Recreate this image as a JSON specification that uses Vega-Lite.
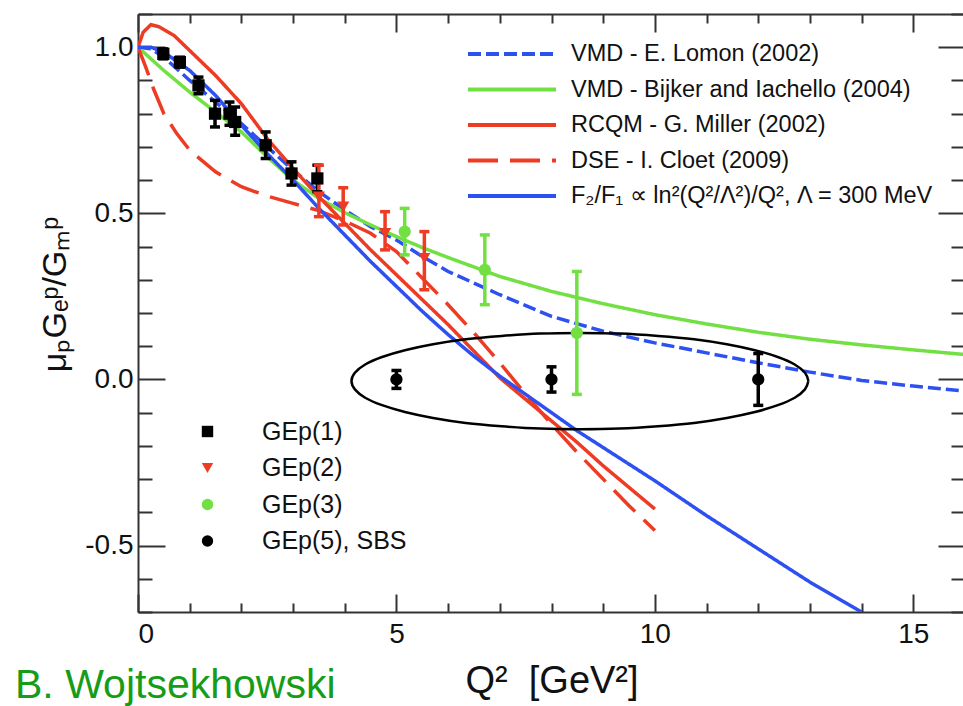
{
  "$schema": "https://vega.github.io/schema/vega-lite/v6.json",
  "width": 827,
  "height": 598,
  "autosize": "none",
  "padding": {"left": 138, "top": 14, "right": 0, "bottom": 94},
  "background": "white",
  "config": {"view": {"stroke": null}, "font": "Liberation Sans", "axis": {"grid": false}},
  "title": {"text": "B. Wojtsekhowski", "orient": "bottom", "anchor": "start", "frame": "group", "dx": -123, "offset": -34, "fontSize": 41, "fontWeight": "normal", "color": "#179c17", "font": "Liberation Sans"},
  "datasets": {
    "curves": [
      {"model": "VMD - E. Lomon (2002)", "x": 0, "y": 1.0},
      {"model": "VMD - E. Lomon (2002)", "x": 0.25, "y": 0.995},
      {"model": "VMD - E. Lomon (2002)", "x": 0.5, "y": 0.97},
      {"model": "VMD - E. Lomon (2002)", "x": 1, "y": 0.9},
      {"model": "VMD - E. Lomon (2002)", "x": 1.5, "y": 0.835},
      {"model": "VMD - E. Lomon (2002)", "x": 2, "y": 0.77},
      {"model": "VMD - E. Lomon (2002)", "x": 2.5, "y": 0.7},
      {"model": "VMD - E. Lomon (2002)", "x": 3, "y": 0.63},
      {"model": "VMD - E. Lomon (2002)", "x": 3.5, "y": 0.565},
      {"model": "VMD - E. Lomon (2002)", "x": 4, "y": 0.51},
      {"model": "VMD - E. Lomon (2002)", "x": 4.5, "y": 0.46},
      {"model": "VMD - E. Lomon (2002)", "x": 5, "y": 0.42},
      {"model": "VMD - E. Lomon (2002)", "x": 5.5, "y": 0.37},
      {"model": "VMD - E. Lomon (2002)", "x": 6, "y": 0.325},
      {"model": "VMD - E. Lomon (2002)", "x": 7, "y": 0.255},
      {"model": "VMD - E. Lomon (2002)", "x": 8, "y": 0.19},
      {"model": "VMD - E. Lomon (2002)", "x": 9, "y": 0.145},
      {"model": "VMD - E. Lomon (2002)", "x": 10, "y": 0.11},
      {"model": "VMD - E. Lomon (2002)", "x": 11, "y": 0.08},
      {"model": "VMD - E. Lomon (2002)", "x": 12, "y": 0.05},
      {"model": "VMD - E. Lomon (2002)", "x": 13, "y": 0.022},
      {"model": "VMD - E. Lomon (2002)", "x": 14, "y": -0.003},
      {"model": "VMD - E. Lomon (2002)", "x": 15, "y": -0.02},
      {"model": "VMD - E. Lomon (2002)", "x": 16, "y": -0.035},
      {"model": "VMD - Bijker and Iachello (2004)", "x": 0, "y": 1.0},
      {"model": "VMD - Bijker and Iachello (2004)", "x": 0.5, "y": 0.93},
      {"model": "VMD - Bijker and Iachello (2004)", "x": 1, "y": 0.865},
      {"model": "VMD - Bijker and Iachello (2004)", "x": 1.5, "y": 0.805},
      {"model": "VMD - Bijker and Iachello (2004)", "x": 2, "y": 0.745},
      {"model": "VMD - Bijker and Iachello (2004)", "x": 2.5, "y": 0.67},
      {"model": "VMD - Bijker and Iachello (2004)", "x": 3, "y": 0.6},
      {"model": "VMD - Bijker and Iachello (2004)", "x": 3.5, "y": 0.545},
      {"model": "VMD - Bijker and Iachello (2004)", "x": 4, "y": 0.502},
      {"model": "VMD - Bijker and Iachello (2004)", "x": 4.5, "y": 0.465},
      {"model": "VMD - Bijker and Iachello (2004)", "x": 5, "y": 0.43},
      {"model": "VMD - Bijker and Iachello (2004)", "x": 5.5, "y": 0.397},
      {"model": "VMD - Bijker and Iachello (2004)", "x": 6, "y": 0.367},
      {"model": "VMD - Bijker and Iachello (2004)", "x": 7, "y": 0.31},
      {"model": "VMD - Bijker and Iachello (2004)", "x": 8, "y": 0.265},
      {"model": "VMD - Bijker and Iachello (2004)", "x": 9, "y": 0.228},
      {"model": "VMD - Bijker and Iachello (2004)", "x": 10, "y": 0.195},
      {"model": "VMD - Bijker and Iachello (2004)", "x": 11, "y": 0.167},
      {"model": "VMD - Bijker and Iachello (2004)", "x": 12, "y": 0.142},
      {"model": "VMD - Bijker and Iachello (2004)", "x": 13, "y": 0.121},
      {"model": "VMD - Bijker and Iachello (2004)", "x": 14, "y": 0.104},
      {"model": "VMD - Bijker and Iachello (2004)", "x": 15, "y": 0.089},
      {"model": "VMD - Bijker and Iachello (2004)", "x": 16, "y": 0.075},
      {"model": "RCQM - G. Miller (2002)", "x": 0, "y": 1.0},
      {"model": "RCQM - G. Miller (2002)", "x": 0.1, "y": 1.045},
      {"model": "RCQM - G. Miller (2002)", "x": 0.25, "y": 1.068},
      {"model": "RCQM - G. Miller (2002)", "x": 0.4, "y": 1.062},
      {"model": "RCQM - G. Miller (2002)", "x": 0.7, "y": 1.035},
      {"model": "RCQM - G. Miller (2002)", "x": 1, "y": 0.99},
      {"model": "RCQM - G. Miller (2002)", "x": 1.5, "y": 0.915},
      {"model": "RCQM - G. Miller (2002)", "x": 2, "y": 0.83},
      {"model": "RCQM - G. Miller (2002)", "x": 2.5, "y": 0.725},
      {"model": "RCQM - G. Miller (2002)", "x": 3, "y": 0.635},
      {"model": "RCQM - G. Miller (2002)", "x": 3.5, "y": 0.55},
      {"model": "RCQM - G. Miller (2002)", "x": 4, "y": 0.47},
      {"model": "RCQM - G. Miller (2002)", "x": 4.5, "y": 0.39},
      {"model": "RCQM - G. Miller (2002)", "x": 5, "y": 0.315},
      {"model": "RCQM - G. Miller (2002)", "x": 5.5, "y": 0.24},
      {"model": "RCQM - G. Miller (2002)", "x": 6, "y": 0.165},
      {"model": "RCQM - G. Miller (2002)", "x": 6.5, "y": 0.085},
      {"model": "RCQM - G. Miller (2002)", "x": 7, "y": 0.005},
      {"model": "RCQM - G. Miller (2002)", "x": 7.5, "y": -0.06},
      {"model": "RCQM - G. Miller (2002)", "x": 8, "y": -0.125},
      {"model": "RCQM - G. Miller (2002)", "x": 8.5, "y": -0.19},
      {"model": "RCQM - G. Miller (2002)", "x": 9, "y": -0.26},
      {"model": "RCQM - G. Miller (2002)", "x": 9.5, "y": -0.325},
      {"model": "RCQM - G. Miller (2002)", "x": 10, "y": -0.39},
      {"model": "DSE - I. Cloet (2009)", "x": 0, "y": 1.0},
      {"model": "DSE - I. Cloet (2009)", "x": 0.15, "y": 0.94},
      {"model": "DSE - I. Cloet (2009)", "x": 0.3, "y": 0.875},
      {"model": "DSE - I. Cloet (2009)", "x": 0.5, "y": 0.8},
      {"model": "DSE - I. Cloet (2009)", "x": 0.75, "y": 0.74},
      {"model": "DSE - I. Cloet (2009)", "x": 1, "y": 0.69},
      {"model": "DSE - I. Cloet (2009)", "x": 1.5, "y": 0.625},
      {"model": "DSE - I. Cloet (2009)", "x": 2, "y": 0.58},
      {"model": "DSE - I. Cloet (2009)", "x": 2.5, "y": 0.552},
      {"model": "DSE - I. Cloet (2009)", "x": 3, "y": 0.53},
      {"model": "DSE - I. Cloet (2009)", "x": 3.5, "y": 0.508},
      {"model": "DSE - I. Cloet (2009)", "x": 4, "y": 0.477},
      {"model": "DSE - I. Cloet (2009)", "x": 4.5, "y": 0.44},
      {"model": "DSE - I. Cloet (2009)", "x": 5, "y": 0.385},
      {"model": "DSE - I. Cloet (2009)", "x": 5.5, "y": 0.305},
      {"model": "DSE - I. Cloet (2009)", "x": 6, "y": 0.225},
      {"model": "DSE - I. Cloet (2009)", "x": 6.5, "y": 0.14},
      {"model": "DSE - I. Cloet (2009)", "x": 7, "y": 0.05},
      {"model": "DSE - I. Cloet (2009)", "x": 7.5, "y": -0.045},
      {"model": "DSE - I. Cloet (2009)", "x": 8, "y": -0.135},
      {"model": "DSE - I. Cloet (2009)", "x": 8.5, "y": -0.22},
      {"model": "DSE - I. Cloet (2009)", "x": 9, "y": -0.3},
      {"model": "DSE - I. Cloet (2009)", "x": 9.5, "y": -0.38},
      {"model": "DSE - I. Cloet (2009)", "x": 10, "y": -0.455},
      {"model": "F₂/F₁ ∝ ln²(Q²/Λ²)/Q², Λ = 300 MeV", "x": 0, "y": 1.0},
      {"model": "F₂/F₁ ∝ ln²(Q²/Λ²)/Q², Λ = 300 MeV", "x": 0.25, "y": 1.0},
      {"model": "F₂/F₁ ∝ ln²(Q²/Λ²)/Q², Λ = 300 MeV", "x": 0.5, "y": 0.985},
      {"model": "F₂/F₁ ∝ ln²(Q²/Λ²)/Q², Λ = 300 MeV", "x": 1, "y": 0.93},
      {"model": "F₂/F₁ ∝ ln²(Q²/Λ²)/Q², Λ = 300 MeV", "x": 1.5, "y": 0.855},
      {"model": "F₂/F₁ ∝ ln²(Q²/Λ²)/Q², Λ = 300 MeV", "x": 2, "y": 0.765},
      {"model": "F₂/F₁ ∝ ln²(Q²/Λ²)/Q², Λ = 300 MeV", "x": 2.5, "y": 0.68},
      {"model": "F₂/F₁ ∝ ln²(Q²/Λ²)/Q², Λ = 300 MeV", "x": 3, "y": 0.6},
      {"model": "F₂/F₁ ∝ ln²(Q²/Λ²)/Q², Λ = 300 MeV", "x": 3.5, "y": 0.515},
      {"model": "F₂/F₁ ∝ ln²(Q²/Λ²)/Q², Λ = 300 MeV", "x": 4, "y": 0.435},
      {"model": "F₂/F₁ ∝ ln²(Q²/Λ²)/Q², Λ = 300 MeV", "x": 4.5, "y": 0.355},
      {"model": "F₂/F₁ ∝ ln²(Q²/Λ²)/Q², Λ = 300 MeV", "x": 5, "y": 0.28},
      {"model": "F₂/F₁ ∝ ln²(Q²/Λ²)/Q², Λ = 300 MeV", "x": 5.5, "y": 0.205},
      {"model": "F₂/F₁ ∝ ln²(Q²/Λ²)/Q², Λ = 300 MeV", "x": 6, "y": 0.135},
      {"model": "F₂/F₁ ∝ ln²(Q²/Λ²)/Q², Λ = 300 MeV", "x": 6.5, "y": 0.07},
      {"model": "F₂/F₁ ∝ ln²(Q²/Λ²)/Q², Λ = 300 MeV", "x": 7, "y": 0.01},
      {"model": "F₂/F₁ ∝ ln²(Q²/Λ²)/Q², Λ = 300 MeV", "x": 7.5, "y": -0.045},
      {"model": "F₂/F₁ ∝ ln²(Q²/Λ²)/Q², Λ = 300 MeV", "x": 8, "y": -0.1},
      {"model": "F₂/F₁ ∝ ln²(Q²/Λ²)/Q², Λ = 300 MeV", "x": 8.5, "y": -0.155},
      {"model": "F₂/F₁ ∝ ln²(Q²/Λ²)/Q², Λ = 300 MeV", "x": 9, "y": -0.205},
      {"model": "F₂/F₁ ∝ ln²(Q²/Λ²)/Q², Λ = 300 MeV", "x": 10, "y": -0.305},
      {"model": "F₂/F₁ ∝ ln²(Q²/Λ²)/Q², Λ = 300 MeV", "x": 11, "y": -0.41},
      {"model": "F₂/F₁ ∝ ln²(Q²/Λ²)/Q², Λ = 300 MeV", "x": 12, "y": -0.51},
      {"model": "F₂/F₁ ∝ ln²(Q²/Λ²)/Q², Λ = 300 MeV", "x": 13, "y": -0.61},
      {"model": "F₂/F₁ ∝ ln²(Q²/Λ²)/Q², Λ = 300 MeV", "x": 14, "y": -0.7}
    ],
    "points": [
      {"dataset": "GEp(1)", "x": 0.49, "y": 0.98, "lo": 0.965, "hi": 0.995},
      {"dataset": "GEp(1)", "x": 0.81, "y": 0.955, "lo": 0.94, "hi": 0.97},
      {"dataset": "GEp(1)", "x": 1.17, "y": 0.885, "lo": 0.86, "hi": 0.91},
      {"dataset": "GEp(1)", "x": 1.49, "y": 0.8, "lo": 0.76, "hi": 0.84},
      {"dataset": "GEp(1)", "x": 1.77, "y": 0.8, "lo": 0.765, "hi": 0.835},
      {"dataset": "GEp(1)", "x": 1.88, "y": 0.775, "lo": 0.735, "hi": 0.82},
      {"dataset": "GEp(1)", "x": 2.47, "y": 0.705, "lo": 0.665, "hi": 0.745},
      {"dataset": "GEp(1)", "x": 2.97, "y": 0.62, "lo": 0.585, "hi": 0.655},
      {"dataset": "GEp(1)", "x": 3.47, "y": 0.605, "lo": 0.565, "hi": 0.645},
      {"dataset": "GEp(2)", "x": 3.5, "y": 0.55, "lo": 0.49, "hi": 0.645},
      {"dataset": "GEp(2)", "x": 3.97, "y": 0.52, "lo": 0.465, "hi": 0.577},
      {"dataset": "GEp(2)", "x": 4.78, "y": 0.44, "lo": 0.39, "hi": 0.505},
      {"dataset": "GEp(2)", "x": 5.54, "y": 0.365, "lo": 0.27, "hi": 0.445},
      {"dataset": "GEp(3)", "x": 5.16, "y": 0.445, "lo": 0.375, "hi": 0.515},
      {"dataset": "GEp(3)", "x": 6.71, "y": 0.33, "lo": 0.225, "hi": 0.435},
      {"dataset": "GEp(3)", "x": 8.49, "y": 0.14, "lo": -0.045, "hi": 0.325},
      {"dataset": "GEp(5), SBS", "x": 5.0, "y": 0.0, "lo": -0.027, "hi": 0.027},
      {"dataset": "GEp(5), SBS", "x": 8.0, "y": 0.0, "lo": -0.038, "hi": 0.038},
      {"dataset": "GEp(5), SBS", "x": 12.0, "y": 0.0, "lo": -0.078, "hi": 0.078}
    ],
    "ellipse": [
      {"i": 0, "x": 12.97, "y": -0.005},
      {"i": 1, "x": 12.904, "y": 0.02},
      {"i": 2, "x": 12.705, "y": 0.045},
      {"i": 3, "x": 12.378, "y": 0.0675},
      {"i": 4, "x": 11.936, "y": 0.088},
      {"i": 5, "x": 11.392, "y": 0.106},
      {"i": 6, "x": 10.76, "y": 0.121},
      {"i": 7, "x": 10.062, "y": 0.131},
      {"i": 8, "x": 9.319, "y": 0.138},
      {"i": 9, "x": 8.55, "y": 0.14},
      {"i": 10, "x": 7.781, "y": 0.138},
      {"i": 11, "x": 7.038, "y": 0.131},
      {"i": 12, "x": 6.34, "y": 0.121},
      {"i": 13, "x": 5.708, "y": 0.106},
      {"i": 14, "x": 5.164, "y": 0.088},
      {"i": 15, "x": 4.722, "y": 0.0675},
      {"i": 16, "x": 4.395, "y": 0.045},
      {"i": 17, "x": 4.196, "y": 0.02},
      {"i": 18, "x": 4.13, "y": -0.005},
      {"i": 19, "x": 4.196, "y": -0.03},
      {"i": 20, "x": 4.395, "y": -0.055},
      {"i": 21, "x": 4.722, "y": -0.0775},
      {"i": 22, "x": 5.164, "y": -0.098},
      {"i": 23, "x": 5.708, "y": -0.116},
      {"i": 24, "x": 6.34, "y": -0.131},
      {"i": 25, "x": 7.038, "y": -0.141},
      {"i": 26, "x": 7.781, "y": -0.148},
      {"i": 27, "x": 8.55, "y": -0.15},
      {"i": 28, "x": 9.319, "y": -0.148},
      {"i": 29, "x": 10.062, "y": -0.141},
      {"i": 30, "x": 10.76, "y": -0.131},
      {"i": 31, "x": 11.392, "y": -0.116},
      {"i": 32, "x": 11.936, "y": -0.098},
      {"i": 33, "x": 12.378, "y": -0.0775},
      {"i": 34, "x": 12.705, "y": -0.055},
      {"i": 35, "x": 12.904, "y": -0.03},
      {"i": 36, "x": 12.97, "y": -0.005}
    ]
  },
  "layer": [
    {
      "data": {"name": "ellipse"},
      "mark": {"type": "point", "opacity": 0},
      "encoding": {
        "x": {"field": "x", "type": "quantitative", "scale": {"domain": [0, 16], "nice": false, "zero": false},
          "axis": {"orient": "top", "values": [0, 5, 10, 15], "labels": false, "title": null, "tickSize": -18, "tickWidth": 2, "tickColor": "#333333", "domain": true, "domainColor": "#333333", "domainWidth": 2}},
        "y": {"field": "y", "type": "quantitative", "scale": {"domain": [-0.7, 1.1], "nice": false, "zero": false},
          "axis": {"orient": "right", "values": [-0.5, 0, 0.5, 1.0], "labels": false, "title": null, "tickSize": -27, "tickWidth": 2, "tickColor": "#333333", "domain": true, "domainColor": "#333333", "domainWidth": 2}}
      }
    },
    {
      "data": {"name": "ellipse"},
      "mark": {"type": "point", "opacity": 0},
      "encoding": {
        "x": {"field": "x", "type": "quantitative",
          "axis": {"orient": "bottom", "values": [1, 2, 3, 4, 6, 7, 8, 9, 11, 12, 13, 14, 16], "labels": false, "title": null, "tickSize": -9, "tickWidth": 2, "tickColor": "#333333", "domain": false}},
        "y": {"field": "y", "type": "quantitative",
          "axis": {"orient": "left", "values": [-0.7, -0.6, -0.4, -0.3, -0.2, -0.1, 0.1, 0.2, 0.3, 0.4, 0.6, 0.7, 0.8, 0.9, 1.1], "labels": false, "title": null, "tickSize": -14, "tickWidth": 2, "tickColor": "#333333", "domain": false}}
      }
    },
    {
      "data": {"name": "ellipse"},
      "mark": {"type": "point", "opacity": 0},
      "encoding": {
        "x": {"field": "x", "type": "quantitative",
          "axis": {"orient": "top", "values": [1, 2, 3, 4, 6, 7, 8, 9, 11, 12, 13, 14, 16], "labels": false, "title": null, "tickSize": -9, "tickWidth": 2, "tickColor": "#333333", "domain": false}},
        "y": {"field": "y", "type": "quantitative",
          "axis": {"orient": "right", "values": [-0.7, -0.6, -0.4, -0.3, -0.2, -0.1, 0.1, 0.2, 0.3, 0.4, 0.6, 0.7, 0.8, 0.9, 1.1], "labels": false, "title": null, "tickSize": -14, "tickWidth": 2, "tickColor": "#333333", "domain": false}}
      }
    },
    {
      "data": {"name": "curves"},
      "mark": {"type": "line", "strokeWidth": 3.5, "clip": true},
      "encoding": {
        "x": {"field": "x", "type": "quantitative",
          "axis": {"orient": "bottom", "values": [0, 5, 10, 15], "tickSize": -18, "tickWidth": 2, "tickColor": "#333333", "domainColor": "#333333", "domainWidth": 2, "labelFontSize": 28, "labelColor": "#111111", "labelPadding": 26, "labelFont": "Liberation Sans", "title": "Q\u00b2\u00a0\u00a0[GeV\u00b2]", "titleFontSize": 38, "titleFontWeight": "normal", "titleColor": "#111111", "titlePadding": 14, "titleFont": "Liberation Sans"}},
        "y": {"field": "y", "type": "quantitative",
          "axis": {"orient": "left", "values": [-0.5, 0, 0.5, 1.0], "format": ".1f", "labelExpr": "replace(datum.label, '\u2212', '-')", "tickSize": -27, "tickWidth": 2, "tickColor": "#333333", "domainColor": "#333333", "domainWidth": 2, "labelFontSize": 28, "labelColor": "#111111", "labelPadding": 32, "labelFont": "Liberation Sans", "title": "μₚGₑᵖ/Gₘᵖ", "titleFontSize": 34, "titleFontWeight": "normal", "titleColor": "#111111", "titlePadding": 12, "titleY": 280, "titleFont": "Liberation Sans"}},
        "color": {"field": "model", "type": "nominal",
          "scale": {"domain": ["VMD - E. Lomon (2002)", "VMD - Bijker and Iachello (2004)", "RCQM - G. Miller (2002)", "DSE - I. Cloet (2009)", "F₂/F₁ ∝ ln²(Q²/Λ²)/Q², Λ = 300 MeV"], "range": ["#2d50f0", "#72e043", "#ee3b24", "#ee3b24", "#2d50f0"]},
          "legend": {"orient": "none", "legendX": 361, "legendY": 27, "title": null, "symbolType": "M-4,0H4", "symbolSize": 484, "symbolStrokeWidth": 4, "labelFontSize": 23.5, "labelFont": "Liberation Sans", "labelColor": "#111111", "labelOffset": 46, "labelLimit": 700, "rowPadding": 10.5}},
        "strokeDash": {"field": "model", "type": "nominal",
          "scale": {"domain": ["VMD - E. Lomon (2002)", "VMD - Bijker and Iachello (2004)", "RCQM - G. Miller (2002)", "DSE - I. Cloet (2009)", "F₂/F₁ ∝ ln²(Q²/Λ²)/Q², Λ = 300 MeV"], "range": [[13, 5], [1, 0], [1, 0], [30, 12], [1, 0]]},
          "legend": {"orient": "none", "legendX": 361, "legendY": 27, "title": null, "symbolType": "M-4,0H4", "symbolSize": 484, "symbolStrokeWidth": 4, "labelFontSize": 23.5, "labelFont": "Liberation Sans", "labelColor": "#111111", "labelOffset": 46, "labelLimit": 700, "rowPadding": 10.5}}
      }
    },
    {
      "mark": {"type": "rule", "color": "black", "strokeWidth": 1.5},
      "encoding": {"y": {"datum": 0, "type": "quantitative", "axis": null}}
    },
    {
      "data": {"name": "ellipse"},
      "mark": {"type": "line", "color": "black", "strokeWidth": 2.5, "interpolate": "cardinal"},
      "encoding": {
        "x": {"field": "x", "type": "quantitative", "axis": null},
        "y": {"field": "y", "type": "quantitative", "axis": null},
        "order": {"field": "i", "type": "quantitative"}
      }
    },
    {
      "data": {"name": "points"},
      "mark": {"type": "rule", "strokeWidth": 3.5},
      "encoding": {
        "x": {"field": "x", "type": "quantitative", "axis": null},
        "y": {"field": "lo", "type": "quantitative", "axis": null},
        "y2": {"field": "hi"},
        "color": {"field": "dataset", "type": "nominal", "scale": {"domain": ["GEp(1)", "GEp(2)", "GEp(3)", "GEp(5), SBS"], "range": ["black", "#ee3b24", "#72e043", "black"]}, "legend": null}
      }
    },
    {
      "data": {"name": "points"},
      "mark": {"type": "tick", "orient": "horizontal", "size": 10, "thickness": 3.5, "opacity": 1},
      "encoding": {
        "x": {"field": "x", "type": "quantitative", "axis": null},
        "y": {"field": "lo", "type": "quantitative", "axis": null},
        "color": {"field": "dataset", "type": "nominal", "scale": {"domain": ["GEp(1)", "GEp(2)", "GEp(3)", "GEp(5), SBS"], "range": ["black", "#ee3b24", "#72e043", "black"]}, "legend": null}
      }
    },
    {
      "data": {"name": "points"},
      "mark": {"type": "tick", "orient": "horizontal", "size": 10, "thickness": 3.5, "opacity": 1},
      "encoding": {
        "x": {"field": "x", "type": "quantitative", "axis": null},
        "y": {"field": "hi", "type": "quantitative", "axis": null},
        "color": {"field": "dataset", "type": "nominal", "scale": {"domain": ["GEp(1)", "GEp(2)", "GEp(3)", "GEp(5), SBS"], "range": ["black", "#ee3b24", "#72e043", "black"]}, "legend": null}
      }
    },
    {
      "data": {"name": "points"},
      "mark": {"type": "point", "filled": true, "size": 150, "opacity": 1},
      "encoding": {
        "x": {"field": "x", "type": "quantitative", "axis": null},
        "y": {"field": "y", "type": "quantitative", "axis": null},
        "color": {"field": "dataset", "type": "nominal", "scale": {"domain": ["GEp(1)", "GEp(2)", "GEp(3)", "GEp(5), SBS"], "range": ["black", "#ee3b24", "#72e043", "black"]},
          "legend": {"orient": "none", "legendX": 57, "legendY": 405, "title": null, "labelFontSize": 25, "labelFont": "Liberation Sans", "labelColor": "#111111", "labelOffset": 42, "rowPadding": 10.5, "symbolSize": 130, "symbolOpacity": 1}},
        "shape": {"field": "dataset", "type": "nominal", "scale": {"domain": ["GEp(1)", "GEp(2)", "GEp(3)", "GEp(5), SBS"], "range": ["square", "triangle-down", "circle", "circle"]},
          "legend": {"orient": "none", "legendX": 57, "legendY": 405, "title": null, "labelFontSize": 25, "labelFont": "Liberation Sans", "labelColor": "#111111", "labelOffset": 42, "rowPadding": 10.5, "symbolSize": 130, "symbolOpacity": 1}}
      }
    }
  ],
  "resolve": {
    "scale": {"color": "independent", "shape": "independent", "strokeDash": "independent"},
    "axis": {"x": "independent", "y": "independent"}
  }
}
